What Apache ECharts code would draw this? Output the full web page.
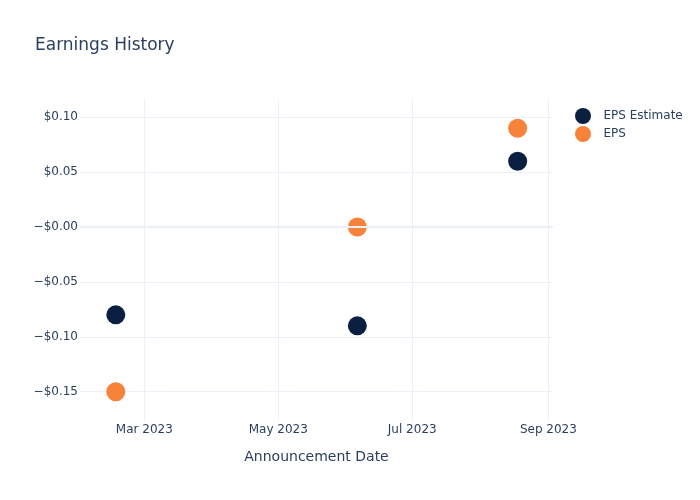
<!DOCTYPE html>
<html>
<head>
<meta charset="utf-8">
<script src="https://cdn.jsdelivr.net/npm/echarts@6/dist/echarts.min.js"></script>
<style>html,body{margin:0;padding:0;background:#fff}#c{width:700px;height:500px}</style>
</head>
<body>
<div id="c"></div>
<script>
// Data
const dates = ['2023-02-16', '2023-06-06', '2023-08-18'];
const epsEstimate = [-0.08, -0.09, 0.06];
const eps = [-0.15, 0.00, 0.09];
const monthNames = ['Jan','Feb','Mar','Apr','May','Jun','Jul','Aug','Sep','Oct','Nov','Dec'];

const DAY = 86400000;
const xMin = new Date('2023-03-01T00:00:00').getTime() - 29.3 * DAY;
const xMax = new Date('2023-09-01T00:00:00').getTime() + 2.1 * DAY;

const font = 'DejaVu Sans';
const textColor = '#2a3f5f';
const gridColor = '#ebf0f8';

const chart = echarts.init(document.getElementById('c'), null, {renderer: 'canvas'});
chart.setOption({
  backgroundColor: '#fff',
  animation: false,
  textStyle: {fontFamily: font},
  title: {
    text: 'Earnings History',
    left: 35, top: 37, padding: 0,
    textStyle: {fontFamily: font, fontSize: 17, fontWeight: 'normal', color: textColor}
  },
  legend: {
    orient: 'vertical',
    left: 575, top: 108,
    itemWidth: 17, itemHeight: 16, itemGap: 2,
    icon: 'circle',
    padding: 0,
    textStyle: {fontFamily: font, fontSize: 12, color: textColor, padding: [0, 0, 0, 7]},
    data: ['EPS Estimate', 'EPS']
  },
  grid: {left: 80, right: 147, top: 100, bottom: 80, containLabel: false},
  xAxis: {
    type: 'time',
    min: xMin, max: xMax,
    minInterval: 61 * DAY,
    maxInterval: 62 * DAY,
    name: 'Announcement Date',
    nameLocation: 'middle',
    nameGap: 30,
    nameTextStyle: {fontFamily: font, fontSize: 14, color: textColor},
    axisLine: {show: false},
    axisTick: {show: false},
    axisLabel: {
      fontFamily: font, fontSize: 12, color: textColor, margin: 4,
      hideOverlap: false,
      formatter: function (v) { const d = new Date(v); return monthNames[d.getMonth()] + ' ' + d.getFullYear(); }
    },
    splitLine: {show: true, showMinLine: false, showMaxLine: false, lineStyle: {color: gridColor, width: 1}}
  },
  yAxis: {
    type: 'value',
    min: -0.1758, max: 0.1158,
    splitNumber: 5,
    axisLine: {show: false},
    axisTick: {show: false},
    axisLabel: {
      fontFamily: font, fontSize: 12, color: textColor, margin: 2,
      showMinLabel: false, showMaxLabel: false,
      formatter: function (v) {
        const a = Math.abs(v).toFixed(2);
        return (v < 0 || Math.abs(v) < 1e-9) ? '\u2212$' + a : '$' + a;
      }
    },
    splitLine: {show: true, showMinLine: false, showMaxLine: false, lineStyle: {color: gridColor, width: 1}}
  },
  series: [
    {
      type: 'line', data: [], z: 1, silent: true,
      markLine: {
        silent: true, symbol: 'none', label: {show: false},
        lineStyle: {color: gridColor, width: 2, type: 'solid'},
        data: [{yAxis: 0}]
      }
    },
    {
      name: 'EPS Estimate', type: 'scatter', z: 3,
      symbolSize: 19,
      itemStyle: {color: '#0b1f41', opacity: 1},
      data: dates.map((d, i) => [d, epsEstimate[i]])
    },
    {
      name: 'EPS', type: 'scatter', z: 3,
      symbolSize: 19,
      itemStyle: {color: '#f7823a', opacity: 1},
      data: dates.map((d, i) => [d, eps[i]])
    }
  ]
});
</script>
</body>
</html>
